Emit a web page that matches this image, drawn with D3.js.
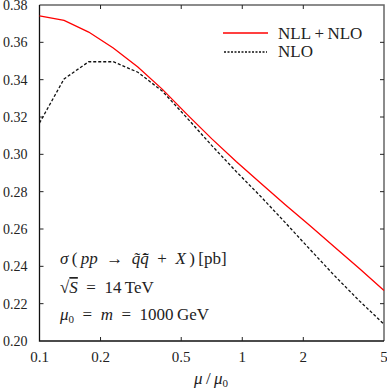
<!DOCTYPE html>
<html>
<head>
<meta charset="utf-8">
<script src="https://cdn.jsdelivr.net/npm/d3@7"></script>
<style>
  body { margin: 0; background: #fff; }
  svg text { font-family: "Liberation Serif", "DejaVu Serif", serif; fill: #222; }
</style>
</head>
<body>
<div id="chart"></div>
<script>
// scale ratio mu/mu0 (log grid) and the two cross sections in pb
var muRatio = [0.1, 0.1322, 0.1748, 0.2311, 0.3055, 0.404, 0.534, 0.706, 0.933, 1.234, 1.63, 2.16, 2.85, 3.78, 5];
var nllNlo  = [0.3742, 0.3718, 0.3655, 0.3570, 0.3468, 0.3348, 0.3214, 0.3084, 0.2962, 0.2845, 0.2730, 0.2617, 0.2504, 0.2388, 0.2270];
var nlo     = [0.3168, 0.3404, 0.3496, 0.3496, 0.3440, 0.3338, 0.3195, 0.3048, 0.2908, 0.2774, 0.2634, 0.2490, 0.2350, 0.2215, 0.2090];
var xTicks = [0.1, 0.2, 0.5, 1, 2, 5];
var yTicks = [0.20, 0.22, 0.24, 0.26, 0.28, 0.30, 0.32, 0.34, 0.36, 0.38];

var width = 387, height = 389;
var margin = {top: 5, right: 3, bottom: 48, left: 39.5};

var svg = d3.select("#chart").append("svg")
    .attr("width", width).attr("height", height);

var x = d3.scaleLog().domain([0.1, 5]).range([margin.left, width - margin.right]);
var y = d3.scaleLinear().domain([0.20, 0.38]).range([height - margin.bottom, margin.top]);

var x0 = x.range()[0], x1 = x.range()[1], y0 = y.range()[0], y1 = y.range()[1];
var tl = 4;

// frame: top/right a bit lighter, like the original
var frame = svg.append("g").attr("fill", "none");
frame.append("path").attr("d", "M" + x0 + "," + y1 + "H" + x1 + "V" + y0)
    .attr("stroke", "#666").attr("stroke-width", 1.5);
frame.append("path").attr("d", "M" + x0 + "," + y1 + "V" + y0 + "H" + x1)
    .attr("stroke", "#111").attr("stroke-width", 1.3);

// ticks (inside, on all four sides)
var g = svg.append("g").attr("stroke", "#222").attr("stroke-width", 1);
xTicks.slice(1, -1).forEach(function(t){
    g.append("line").attr("x1", x(t)).attr("x2", x(t)).attr("y1", y0).attr("y2", y0 - tl);
    g.append("line").attr("x1", x(t)).attr("x2", x(t)).attr("y1", y1).attr("y2", y1 + tl);
});
yTicks.slice(1, -1).forEach(function(t){
    g.append("line").attr("x1", x0).attr("x2", x0 + tl).attr("y1", y(t)).attr("y2", y(t));
    g.append("line").attr("x1", x1).attr("x2", x1 - tl).attr("y1", y(t)).attr("y2", y(t));
});

// tick labels
svg.selectAll("text.xt").data(xTicks).enter().append("text")
    .attr("class", "xt")
    .attr("x", function(d){ return x(d); })
    .attr("y", y0 + 21)
    .attr("text-anchor", "middle")
    .attr("font-size", 15)
    .text(function(d){ return d; });

svg.selectAll("text.yt").data(yTicks).enter().append("text")
    .attr("class", "yt")
    .attr("x", x0 - 12)
    .attr("y", function(d){ return y(d) + 5; })
    .attr("text-anchor", "end")
    .attr("font-size", 14)
    .text(function(d){ return d3.format(".2f")(d); });

// axis title mu/mu0
var xl = svg.append("text").attr("x", 211).attr("y", 384)
    .attr("text-anchor", "middle").attr("font-size", 17);
xl.append("tspan").attr("font-style", "italic").text("μ");
xl.append("tspan").text("\u2009/\u2009");
xl.append("tspan").attr("font-style", "italic").text("μ");
xl.append("tspan").attr("font-size", 11).attr("dy", 3).text("0");

// curves
var line = d3.line()
    .x(function(d){ return x(d[0]); })
    .y(function(d){ return y(d[1]); });

svg.append("path")
    .datum(d3.zip(muRatio, nllNlo))
    .attr("d", line)
    .attr("fill", "none").attr("stroke", "#ff0000").attr("stroke-width", 1.3);

svg.append("path")
    .datum(d3.zip(muRatio, nlo))
    .attr("d", line)
    .attr("fill", "none").attr("stroke", "#111").attr("stroke-width", 1.3)
    .attr("stroke-dasharray", "3,2");

// legend
var leg = svg.append("g");
leg.append("line").attr("x1", 223).attr("x2", 268).attr("y1", 33).attr("y2", 33)
    .attr("stroke", "#ff0000").attr("stroke-width", 1.3);
leg.append("text").attr("x", 278).attr("y", 38.5).attr("font-size", 17).text("NLL\u2009+\u2009NLO");
leg.append("line").attr("x1", 224).attr("x2", 267).attr("y1", 52).attr("y2", 52)
    .attr("stroke", "#111").attr("stroke-width", 1.3).attr("stroke-dasharray", "2,1.5");
leg.append("text").attr("x", 278).attr("y", 57).attr("font-size", 17).text("NLO");

// process annotation
var sp = "\u2002";
var a1 = svg.append("text").attr("x", 60).attr("y", 264).attr("font-size", 17);
a1.append("tspan").attr("font-style", "italic").text("σ");
a1.append("tspan").text("\u2009(\u2009");
a1.append("tspan").attr("font-style", "italic").text("pp");
a1.append("tspan").text(sp + "→" + sp);
a1.append("tspan").attr("font-style", "italic").text("q\u0303q\u0303\u0304");
a1.append("tspan").text(sp + "+" + sp);
a1.append("tspan").attr("font-style", "italic").text("X");
a1.append("tspan").text("\u2009)\u2009[pb]");

var a2 = svg.append("text").attr("x", 60).attr("y", 293).attr("font-size", 17);
a2.append("tspan").text("√");
a2.append("tspan").attr("font-style", "italic").attr("text-decoration", "overline").text("S");
a2.append("tspan").text(sp + "=" + sp + "14\u2009TeV");

var a3 = svg.append("text").attr("x", 60).attr("y", 320).attr("font-size", 17);
a3.append("tspan").attr("font-style", "italic").text("μ");
a3.append("tspan").attr("font-size", 11).attr("dy", 3).text("0");
a3.append("tspan").attr("dy", -3).text(sp + "=" + sp);
a3.append("tspan").attr("font-style", "italic").text("m");
a3.append("tspan").text(sp + "=" + sp + "1000\u2009GeV");
</script>
</body>
</html>
